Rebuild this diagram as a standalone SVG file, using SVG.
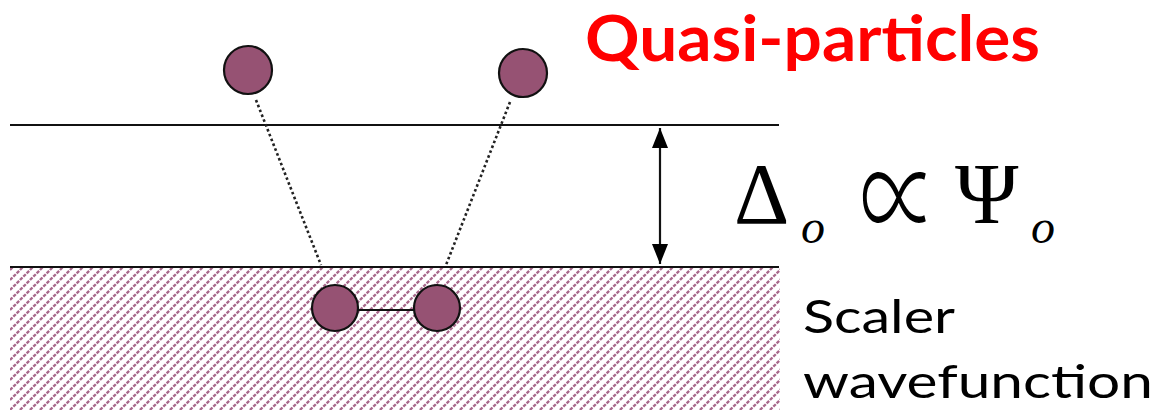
<svg xmlns="http://www.w3.org/2000/svg" width="1159" height="410" viewBox="0 0 1159 410">
<defs>
<pattern id="hatch" patternUnits="userSpaceOnUse" width="10" height="10">
<line x1="0" y1="10" x2="10" y2="0" stroke="#a8688b" stroke-width="2.3" stroke-dasharray="3.5 1.21"/>
<line x1="-10" y1="10" x2="10" y2="-10" stroke="#a8688b" stroke-width="2.3" stroke-dasharray="3.5 1.21"/>
<line x1="0" y1="20" x2="20" y2="0" stroke="#a8688b" stroke-width="2.3" stroke-dasharray="3.5 1.21"/>
</pattern>
<marker id="ah2" viewBox="0 0 20 16" refX="20" refY="8" markerWidth="20" markerHeight="16" markerUnits="userSpaceOnUse" orient="auto-start-reverse">
<path d="M0,0 L20,8 L0,16 z" fill="#000"/>
</marker>
</defs>
<style>
.p{fill:#965273;stroke:#111;stroke-width:2.2}
.ln{stroke:#111;stroke-width:2.2;fill:none}
.dot{stroke:#222;stroke-width:2.6;stroke-dasharray:2.6 2.6;fill:none}
.math{font-family:"Liberation Serif","DejaVu Serif",serif;fill:#000}
.lab{font-family:Lato,"Open Sans","Liberation Sans",sans-serif;fill:#000}
</style>
<rect id="scalar-region" x="10" y="268" width="770" height="142" fill="url(#hatch)"/>
<g id="connectors">
<line class="ln" x1="10" y1="125" x2="779" y2="125"/>
<line class="ln" x1="10" y1="267" x2="779" y2="267"/>
<line class="dot" x1="256" y1="100" x2="321" y2="265"/>
<line class="dot" x1="510" y1="102" x2="446" y2="265"/>
<line class="ln" x1="358" y1="310" x2="414" y2="310"/>
<line class="ln" x1="660" y1="128" x2="660" y2="264" marker-start="url(#ah2)" marker-end="url(#ah2)"/>
</g>
<g id="qp-left"><circle class="p" cx="248" cy="70" r="24"/></g>
<g id="qp-right"><circle class="p" cx="523" cy="73" r="24"/></g>
<g id="pair-left"><circle class="p" cx="335" cy="308" r="23"/></g>
<g id="pair-right"><circle class="p" cx="437" cy="308" r="23"/></g>
<g id="title"><text x="585" y="61" font-family="Lato,'Open Sans','Liberation Sans',sans-serif" font-weight="bold" font-size="64" fill="#ff0000" textLength="455" lengthAdjust="spacingAndGlyphs">Quasi-particles</text></g>
<g id="formula">
<text class="math" x="734" y="223" font-size="86">Δ</text>
<text class="math" x="801" y="243" font-size="48" font-style="italic">o</text>
<text x="0" y="0" transform="translate(860,246) scale(0.62,1.05)" font-size="125" font-family="'DejaVu Sans','Noto Sans CJK JP',sans-serif" font-weight="200" fill="#000">∝</text>
<text class="math" x="955" y="223" font-size="86">Ψ</text>
<text class="math" x="1031" y="243" font-size="48" font-style="italic">o</text>
</g>
<g id="label">
<text class="lab" x="803" y="333" font-size="46" textLength="152" lengthAdjust="spacingAndGlyphs">Scaler</text>
<text class="lab" x="803" y="398" font-size="46" textLength="350" lengthAdjust="spacingAndGlyphs">wavefunction</text>
</g>
</svg>
